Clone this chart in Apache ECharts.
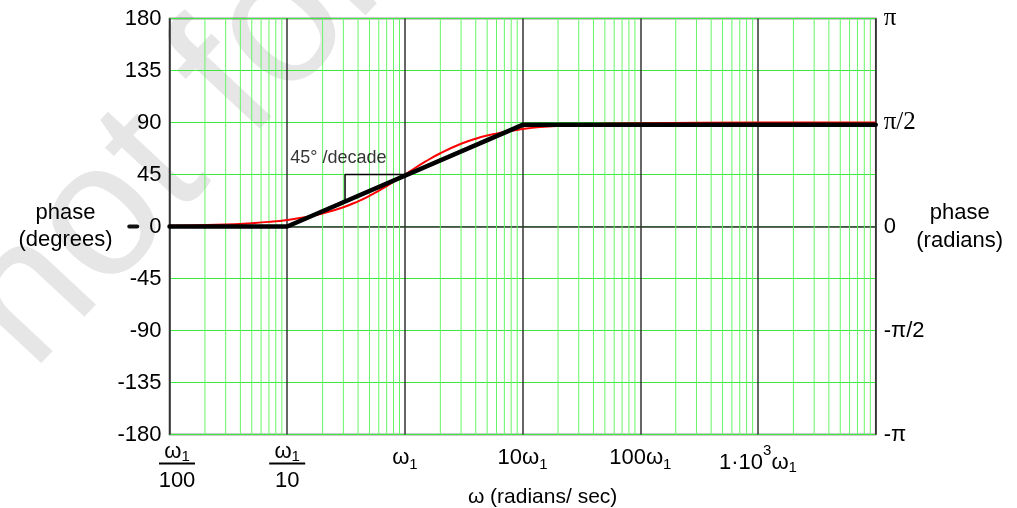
<!DOCTYPE html>
<html>
<head>
<meta charset="utf-8">
<script src="https://cdn.jsdelivr.net/npm/echarts@6/dist/echarts.min.js"></script>
<style>
html, body { margin: 0; padding: 0; background: #fff; }
#phase { width: 1017px; height: 508px; }
</style>
</head>
<body>
<div id="phase"></div>
<script>
// phase of a zero at w1, frequency in units of w1
var degTicks = [-180, -135, -90, -45, 0, 45, 90, 135, 180];
var radLabels = { '180': 'π', '90': 'π/2', '0': '0', '-90': '-π/2', '-180': '-π' };
var decades = [0.01, 0.1, 1, 10, 100, 1000, 10000];
var asymptote = [[0.01, 0], [0.1, 0], [10, 88], [10000, 88]];
var exact = [
	[0.01, 0.6], [0.03, 1.7], [0.05, 2.9], [0.07, 4], [0.1, 5.7], [0.15, 8.5], [0.2, 11.3],
	[0.3, 16.7], [0.4, 21.8], [0.5, 26.6], [0.7, 35], [1, 45], [1.5, 56.3], [2, 63.4],
	[3, 71.6], [4, 76], [5, 78.7], [7, 81.9], [10, 84.3], [14, 86], [20, 87.1],
	[50, 88.9], [100, 89.4], [1000, 89.9], [10000, 90]
];
var slopeMark = [[0.31, 22.5], [0.31, 45], [1, 45]];
var slopeNote = [[0.106, 59.4]];

// minor log grid lines 2..9 inside every decade, one broken polyline
var minorLines = [];
for (var d = 0; d < decades.length - 1; d++) {
	for (var k = 2; k <= 9; k++) {
		var x = decades[d] * k;
		minorLines.push([x, degTicks[0]], [x, degTicks[degTicks.length - 1]], [x, '-']);
	}
}

var SANS = 'Liberation Sans';
var rich = {
	fw: { fontFamily: SANS, fontSize: 22, lineHeight: 22, verticalAlign: 'top', color: '#000' },
	fs: { fontFamily: SANS, fontSize: 15, lineHeight: 16, verticalAlign: 'top', padding: [9, 0, 0, 0], color: '#000' },
	bar: { width: 36, height: 2, lineHeight: 2, backgroundColor: '#000' },
	fd: { fontFamily: SANS, fontSize: 22, lineHeight: 32, color: '#000' },
	sp: { width: 15, lineHeight: 2, fontSize: 2 },
	n: { fontFamily: SANS, fontSize: 22, lineHeight: 22, verticalAlign: 'top', padding: [6, 0, 0, 0], color: '#000' },
	s: { fontFamily: SANS, fontSize: 15, lineHeight: 16, verticalAlign: 'top', padding: [17, 0, 0, 0], color: '#000' },
	n3: { fontFamily: SANS, fontSize: 22, lineHeight: 22, verticalAlign: 'top', padding: [11, 0, 0, 0], color: '#000' },
	sup: { fontFamily: SANS, fontSize: 15, lineHeight: 16, verticalAlign: 'top', padding: [3, 0, 0, 0], color: '#000' },
	s3: { fontFamily: SANS, fontSize: 15, lineHeight: 16, verticalAlign: 'top', padding: [20, 0, 0, 0], color: '#000' }
};
var decadeText = {
	'-2': '{sp|}{fw|ω}{fs|1}\n{sp|}{bar| }\n{sp|}{fd|100}',
	'-1': '{fw|ω}{fs|1}\n{bar| }\n{fd|10}',
	'0': '{n|ω}{s|1}',
	'1': '{n|10ω}{s|1}',
	'2': '{n|100ω}{s|1}',
	'3': '{n3|1·10}{sup|3}{n3|ω}{s3|1}',
	'4': ''
};

var myChart = echarts.init(document.getElementById('phase'));
var option = {
	animation: false,
	backgroundColor: '#fff',
	graphic: [{
		type: 'text',
		z: -100,
		x: -6,
		y: 337,
		rotation: 47 * Math.PI / 180,
		silent: true,
		style: {
			text: 'not for distribution',
			fontSize: 190,
			fontFamily: SANS,
			fill: '#e6e6e6',
			align: 'left',
			verticalAlign: 'middle'
		}
	}],
	grid: {
		left: 169.5,
		right: 141.3,
		top: 18.5,
		bottom: 73.5,
		outerBoundsMode: 'none',
		containLabel: false,
		show: true,
		borderColor: '#333',
		borderWidth: 1.5
	},
	xAxis: {
		type: 'log',
		logBase: 10,
		min: 0.01,
		max: 10000,
		splitNumber: 6,
		name: 'ω (radians/ sec)',
		nameLocation: 'middle',
		nameGap: 52,
		nameMoveOverlap: false,
		nameTextStyle: { fontFamily: SANS, fontSize: 21, color: '#000', padding: [0, 0, 0, 40] },
		axisLine: { show: true, lineStyle: { color: '#333', width: 1.5 } },
		axisTick: { show: false },
		axisLabel: {
			margin: 6,
			interval: 0,
			formatter: function (v) {
				return decadeText[String(Math.round(Math.log10(v)))] || '';
			},
			rich: rich
		},
		minorTick: { show: false },
		minorSplitLine: { show: false },
		splitLine: { show: true, lineStyle: { color: '#333', width: 1.5 } }
	},
	yAxis: [{
		type: 'value',
		min: -180,
		max: 180,
		interval: 45,
		name: 'phase\n(degrees)',
		nameLocation: 'middle',
		nameRotate: 0,
		nameGap: 104,
		nameMoveOverlap: false,
		nameTextStyle: { fontFamily: SANS, fontSize: 22, lineHeight: 27, color: '#000', align: 'center', verticalAlign: 'middle' },
		axisLine: { show: false },
		axisTick: { show: false },
		axisLabel: {
			margin: 8,
			fontFamily: SANS,
			fontSize: 22,
			color: '#000',
			formatter: function (v) {
				return v === 0 ? '{dash| }{gap| }0' : String(v);
			},
			rich: {
				dash: { width: 12, height: 4, lineHeight: 4, backgroundColor: '#111', borderRadius: 2 },
				gap: { width: 10 }
			}
		},
		splitLine: { show: true, lineStyle: { color: '#3de83d', width: 1.2 } }
	}, {
		type: 'value',
		position: 'right',
		min: -180,
		max: 180,
		interval: 90,
		name: 'phase\n(radians)',
		nameLocation: 'middle',
		nameRotate: 0,
		nameGap: 84,
		nameMoveOverlap: false,
		nameTextStyle: { fontFamily: SANS, fontSize: 22, lineHeight: 28, color: '#000', align: 'center', verticalAlign: 'middle' },
		axisLine: { show: false },
		axisTick: { show: false },
		splitLine: { show: false },
		axisLabel: {
			margin: 8,
			formatter: function (v) {
				var t = radLabels[String(v)];
				return v > 0 ? '{ser|' + t + '}' : '{san|' + t + '}';
			},
			rich: {
				ser: { fontFamily: 'Liberation Serif', fontSize: 25, color: '#000' },
				san: { fontFamily: SANS, fontSize: 22, color: '#000' }
			}
		}
	}],
	series: [{
		name: 'minor grid',
		type: 'line',
		z: 1,
		silent: true,
		data: minorLines,
		showSymbol: false,
		connectNulls: false,
		lineStyle: { color: '#66f566', width: 1 }
	}, {
		name: 'exact',
		type: 'line',
		z: 3,
		data: exact,
		showSymbol: false,
		smooth: true,
		lineStyle: { color: '#ff0000', width: 2 }
	}, {
		name: 'asymptote',
		type: 'line',
		z: 4,
		data: asymptote,
		showSymbol: false,
		lineStyle: { color: '#000', width: 4.5, cap: 'round', join: 'round' }
	}, {
		name: 'slope',
		type: 'line',
		z: 4,
		data: slopeMark,
		showSymbol: false,
		lineStyle: { color: '#000', width: 1.5 }
	}, {
		name: 'note',
		type: 'scatter',
		z: 5,
		data: slopeNote,
		symbolSize: 0,
		label: {
			show: true,
			position: 'inside',
			align: 'left',
			formatter: '45° /decade',
			fontFamily: SANS,
			fontSize: 18,
			color: '#000'
		}
	}]
};
myChart.setOption(option, true);
</script>
</body>
</html>
